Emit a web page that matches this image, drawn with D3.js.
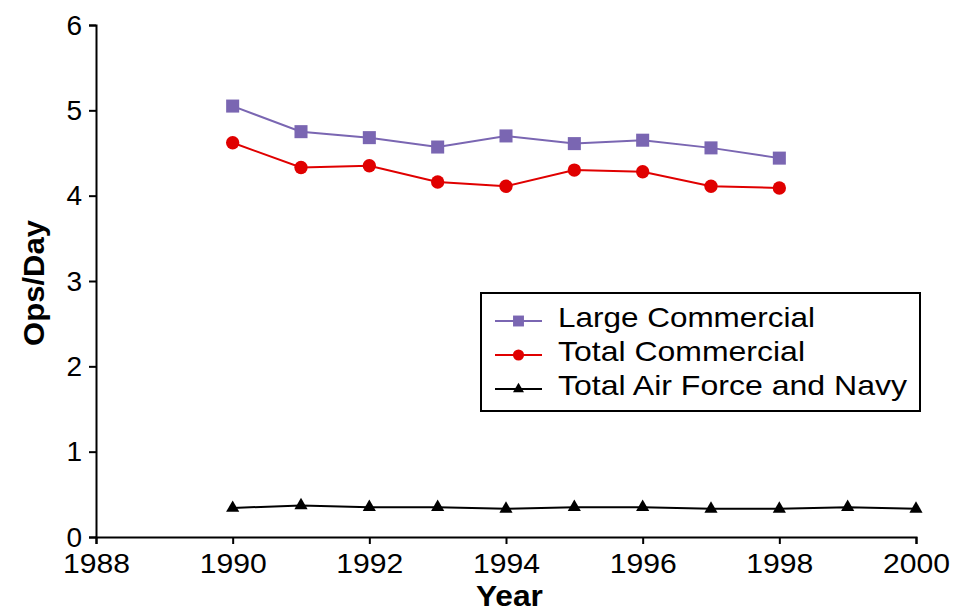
<!DOCTYPE html>
<html>
<head>
<meta charset="utf-8">
<script src="https://cdn.jsdelivr.net/npm/d3@7"></script>
<style>
  body { margin: 0; background: #fff; }
  svg { font-family: "Liberation Sans", Arial, sans-serif; }
</style>
</head>
<body>
<div id="chart"></div>
<script>
var years = [1990, 1991, 1992, 1993, 1994, 1995, 1996, 1997, 1998];
var yearsMil = [1990, 1991, 1992, 1993, 1994, 1995, 1996, 1997, 1998, 1999, 2000];
var largeCommercial = [5.05, 4.75, 4.68, 4.57, 4.70, 4.61, 4.65, 4.56, 4.44];
var totalCommercial = [4.62, 4.33, 4.35, 4.16, 4.11, 4.30, 4.28, 4.11, 4.09];
var airForceNavy = [0.34, 0.37, 0.35, 0.35, 0.33, 0.35, 0.35, 0.33, 0.33, 0.35, 0.33];
var xTicks = [1988, 1990, 1992, 1994, 1996, 1998, 2000];
var yTicks = [0, 1, 2, 3, 4, 5, 6];
var seriesNames = ["Large Commercial", "Total Commercial", "Total Air Force and Navy"];

var svgWidth = 969, svgHeight = 612;
var margin = { top: 25, right: 53, bottom: 75, left: 96 };
var width = svgWidth - margin.left - margin.right;
var height = svgHeight - margin.top - margin.bottom;

var svg = d3.select('#chart').append("svg")
  .attr("width", svgWidth)
  .attr("height", svgHeight);
var g = svg.append("g")
  .attr("transform", "translate(" + margin.left + "," + margin.top + ")");

var x = d3.scaleLinear().domain([1988, 2000]).range([0, width]);
var y = d3.scaleLinear().domain([0, 6]).range([height, 0]);

var xAxis = g.append("g")
  .attr("transform", "translate(0," + height + ")")
  .call(d3.axisBottom(x).tickValues(xTicks).tickFormat(d3.format("d")).tickSize(7).tickPadding(9));
var yAxis = g.append("g")
  .call(d3.axisLeft(y).tickValues(yTicks).tickFormat(d3.format("d")).tickSize(7).tickPadding(7));
[xAxis, yAxis].forEach(function(a) {
  a.select(".domain").attr("stroke", "#000").attr("stroke-width", 2);
  a.selectAll(".tick line").attr("stroke", "#000").attr("stroke-width", 2);
  a.selectAll(".tick text").attr("font-size", 28).attr("fill", "#000")
    .attr("font-family", "'Liberation Sans', Arial, sans-serif");
});
yAxis.selectAll(".tick text").attr("dy", "0.33em");
xAxis.selectAll(".tick text")
  .attr("textLength", 67).attr("lengthAdjust", "spacingAndGlyphs");

svg.append("text")
  .attr("x", margin.left + x(1994.05))
  .attr("y", 606)
  .attr("text-anchor", "middle")
  .attr("font-size", 29)
  .attr("font-weight", "bold")
  .attr("textLength", 67)
  .attr("lengthAdjust", "spacingAndGlyphs")
  .text("Year");

svg.append("text")
  .attr("transform", "translate(44,283) rotate(-90)")
  .attr("text-anchor", "middle")
  .attr("font-size", 29)
  .attr("font-weight", "bold")
  .attr("textLength", 126)
  .attr("lengthAdjust", "spacingAndGlyphs")
  .text("Ops/Day");

var line = d3.line()
  .x(function(d) { return x(d.year); })
  .y(function(d) { return y(d.value); });

function toPoints(xs, vs) {
  return xs.map(function(yr, i) { return { year: yr, value: vs[i] }; });
}

var series = [
  { name: seriesNames[0], color: "#7A66B2", symbol: d3.symbolSquare, size: 170, len: 257, data: toPoints(years, largeCommercial) },
  { name: seriesNames[1], color: "#E00000", symbol: d3.symbolCircle, size: 140, len: 247, data: toPoints(years, totalCommercial) },
  { name: seriesNames[2], color: "#000000", symbol: d3.symbolTriangle, size: 75, len: 349, data: toPoints(yearsMil, airForceNavy) }
];

series.forEach(function(s) {
  g.append("path")
    .datum(s.data)
    .attr("fill", "none")
    .attr("stroke", s.color)
    .attr("stroke-width", 2)
    .attr("d", line);
  g.selectAll(null)
    .data(s.data)
    .enter().append("path")
    .attr("transform", function(d) { return "translate(" + x(d.year) + "," + y(d.value) + ")"; })
    .attr("d", d3.symbol().type(s.symbol).size(s.size))
    .attr("fill", s.color);
});

// legend
var lg = svg.append("g").attr("transform", "translate(481,293)");
lg.append("rect")
  .attr("width", 439).attr("height", 118)
  .attr("fill", "#fff").attr("stroke", "#000").attr("stroke-width", 2);
series.forEach(function(s, i) {
  var cy = 28 + i * 34;
  lg.append("line").attr("x1", 14).attr("x2", 61).attr("y1", cy).attr("y2", cy)
    .attr("stroke", s.color).attr("stroke-width", 2);
  lg.append("path")
    .attr("transform", "translate(37.5," + cy + ")")
    .attr("d", d3.symbol().type(s.symbol).size(s.size * 0.7))
    .attr("fill", s.color);
  lg.append("text").attr("x", 77).attr("y", cy + 6)
    .attr("font-size", 28).attr("fill", "#000")
    .attr("textLength", s.len)
    .attr("lengthAdjust", "spacingAndGlyphs")
    .text(s.name);
});
</script>
</body>
</html>
